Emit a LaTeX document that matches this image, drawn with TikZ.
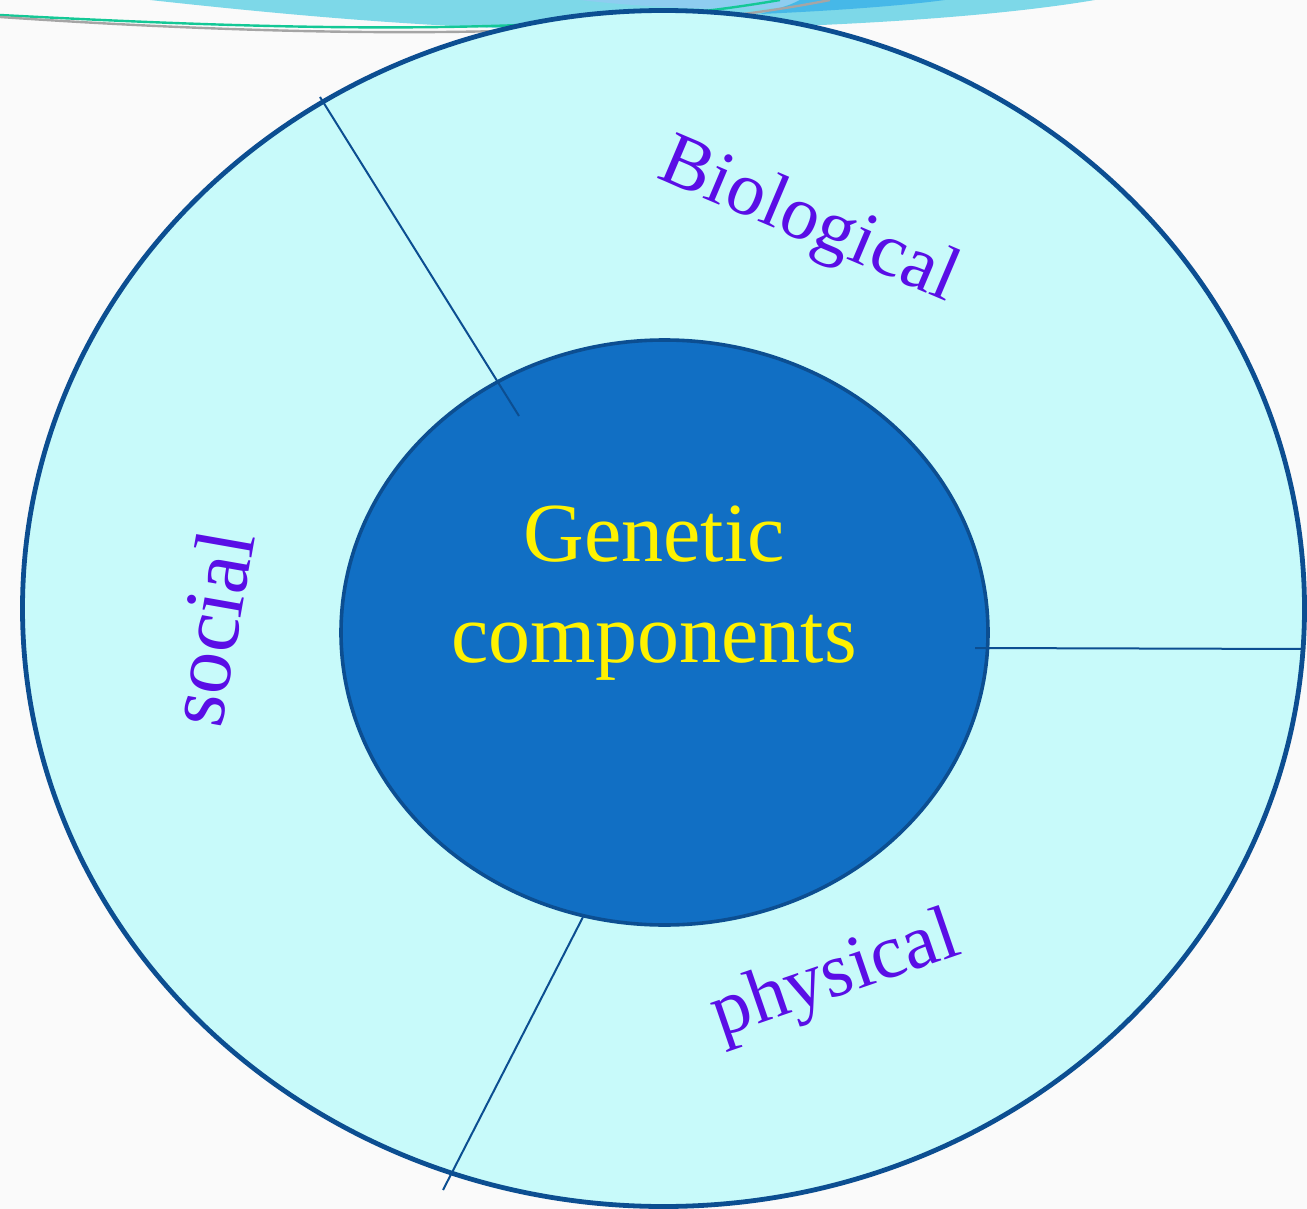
\documentclass[tikz,border=0pt]{standalone}
\usepackage{fontspec}
\setmainfont{Liberation Serif}
\usetikzlibrary{shapes.geometric}
\definecolor{paper}{RGB}{250,250,250}
\definecolor{ringfill}{RGB}{200,250,250}
\definecolor{ringline}{RGB}{12,78,145}
\definecolor{corefill}{RGB}{17,111,196}
\definecolor{labelviolet}{RGB}{90,14,230}
\definecolor{swoosh}{RGB}{125,216,232}
\definecolor{swooshdark}{RGB}{70,184,232}
\definecolor{swooshpale}{RGB}{142,205,240}
\definecolor{tealline}{RGB}{20,200,150}
\definecolor{greyline}{RGB}{165,165,165}

\begin{document}
\begin{tikzpicture}[x=0.5pt,y=-0.5pt,
    ring/.style={ellipse,draw=ringline,fill=ringfill,line width=2.4pt,inner sep=0pt,outer sep=0pt},
    core/.style={ellipse,draw=ringline,fill=corefill,line width=1.8pt,inner sep=0pt,outer sep=0pt},
    divider/.style={draw=ringline,line width=1pt},
    sector/.style={text=labelviolet,inner sep=0pt}]
            \fill[paper] (0,0) rectangle (1307,1209);
            \useasboundingbox (0,0) rectangle (1307,1209);
            % slide swooshes at the top
            \fill[swoosh] (150,0) .. controls (350,22) and (500,32) .. (650,30) .. controls (850,27) and (1000,16) .. (1095,0) -- cycle;
            \fill[swooshpale] (580,0) .. controls (650,8) and (720,10) .. (780,8) -- (800,0) -- cycle;
            \fill[swooshdark] (760,14) .. controls (830,11) and (900,6) .. (945,0) -- (800,0) .. controls (790,5) .. (760,14);
            \draw[tealline,line width=1.2pt] (0,15) .. controls (250,28) and (550,40) .. (780,0);
            \draw[greyline,line width=1.2pt] (0,17) .. controls (250,34) and (600,46) .. (830,0);
            % rings
            \node[ring,minimum width=641pt,minimum height=598pt] (rim) at (663.5,608.5) {};
            \node[core,minimum width=323.5pt,minimum height=292.5pt] (core) at (664.5,632.5) {};
            \coordinate (bio-rim) at (320,97);
            \coordinate (bio-core) at (519,416);
            \coordinate (phy-core) at (583,917);
            \coordinate (phy-rim) at (443,1190);
            \coordinate (core-east) at (975,648);
            \coordinate (rim-east) at (1305,649);
            \draw[divider] (bio-rim) -- (bio-core);
            \draw[divider] (phy-core) -- (phy-rim);
            \draw[divider] (core-east) -- (rim-east);
            % labels
            \node[sector,rotate=-23,font=\fontsize{38}{45}\selectfont] (bio) at (808,223) {Biological};
            \node[sector,rotate=80,font=\fontsize{42}{50}\selectfont] (soc) at (210,628) {social};
            \node[sector,rotate=19,font=\fontsize{38.5}{46}\selectfont] (phy) at (836,978) {physical};
            \node[text=yellow,align=center,font=\fontsize{42}{50.5}\selectfont] (gen) at (654,593) {Genetic\\components};
\end{tikzpicture}
\end{document}
